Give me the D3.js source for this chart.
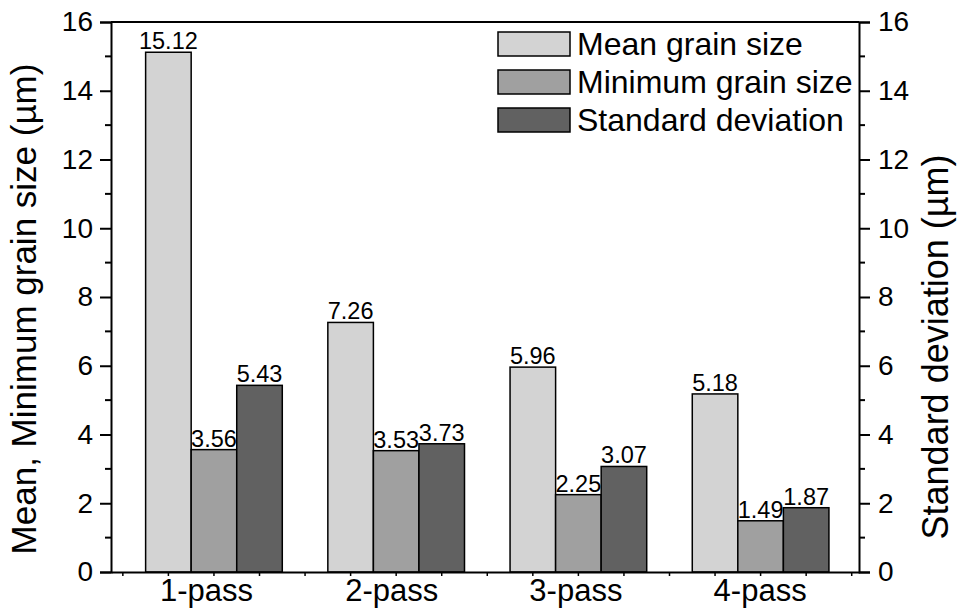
<!DOCTYPE html>
<html>
<head>
<meta charset="utf-8">
<title>Grain size</title>
<script src="https://cdn.jsdelivr.net/npm/d3@7"></script>
<style>
  body { margin: 0; background: #fff; }
  text { font-family: "Liberation Sans", Arial, sans-serif; fill: #000; }
</style>
</head>
<body>
<svg id="chart" width="957" height="612"></svg>
<script>
// data
const categories = ["1-pass", "2-pass", "3-pass", "4-pass"];
const seriesNames = ["Mean grain size", "Minimum grain size", "Standard deviation"];
const meanSize = [15.12, 7.26, 5.96, 5.18];
const minSize = [3.56, 3.53, 2.25, 1.49];
const stdDev = [5.43, 3.73, 3.07, 1.87];
const yTicks = [0, 2, 4, 6, 8, 10, 12, 14, 16];
const colors = ["#d3d3d3", "#a0a0a0", "#616161"];

const svg = d3.select("#chart");
const m = {left: 111, right: 98, top: 22, bottom: 40};
const W = 957, H = 612;
const FONT = '"Liberation Sans", Arial, sans-serif';

const x = d3.scaleLinear().domain([0.435, 4.54]).range([m.left, W - m.right]);
const y = d3.scaleLinear().domain([0, 16]).range([H - m.bottom, m.top]);
const barW = 0.25;

const series = [meanSize, minSize, stdDev];

// bars
series.forEach(function(vals, s) {
  const g = svg.append("g");
  g.selectAll("rect")
    .data(vals)
    .enter()
    .append("rect")
      .attr("x", (d, i) => x(i + 1 + (s - 1) * barW - barW / 2))
      .attr("width", x(barW) - x(0))
      .attr("y", d => y(d))
      .attr("height", d => y(0) - y(d))
      .attr("fill", colors[s])
      .attr("stroke", "#000")
      .attr("stroke-width", 1.5);
  g.selectAll("text")
    .data(vals)
    .enter()
    .append("text")
      .attr("x", (d, i) => x(i + 1 + (s - 1) * barW))
      .attr("y", d => y(d) - 3)
      .attr("text-anchor", "middle")
      .style("font-size", "23.5px")
      .text(d => d.toFixed(2));
});

// left axis
const yLeft = d3.axisLeft(y).tickValues(yTicks).tickSize(11).tickPadding(7).tickFormat(d3.format("d"));
const gl = svg.append("g").attr("transform", `translate(${m.left},0)`).call(yLeft);
gl.selectAll("line").attr("stroke-width", 2);
gl.select(".domain").attr("stroke-width", 2);
gl.selectAll("text").style("font-size", "28px").style("font-family", FONT);
gl.append("g").selectAll("line")
  .data(d3.range(1, 16, 2)).enter().append("line")
  .attr("x1", -6).attr("x2", 0).attr("y1", d => y(d)).attr("y2", d => y(d))
  .attr("stroke", "#000").attr("stroke-width", 2);

// right axis
const yRight = d3.axisRight(y).tickValues(yTicks).tickSize(11).tickPadding(8).tickFormat(d3.format("d"));
const gr = svg.append("g").attr("transform", `translate(${W - m.right},0)`).call(yRight);
gr.selectAll("line").attr("stroke-width", 2);
gr.select(".domain").attr("stroke-width", 2);
gr.selectAll("text").style("font-size", "28px").style("font-family", FONT);
gr.append("g").selectAll("line")
  .data(d3.range(1, 16, 2)).enter().append("line")
  .attr("x1", 0).attr("x2", 6).attr("y1", d => y(d)).attr("y2", d => y(d))
  .attr("stroke", "#000").attr("stroke-width", 2);

// bottom axis with category labels
const xAxis = d3.axisBottom(x).tickValues([1, 2, 3, 4]).tickSize(0).tickPadding(7)
  .tickFormat((d, i) => categories[i]);
const gb = svg.append("g").attr("transform", `translate(0,${H - m.bottom})`).call(xAxis);
gb.select(".domain").attr("stroke-width", 2);
gb.selectAll("text").style("font-size", "31px").style("font-family", FONT)
  .attr("dx", (d, i) => [-8, -5, -3, -1][i]);
gb.append("g").selectAll("line")
  .data(d3.range(0.5, 4.55, 0.25)).enter().append("line")
  .attr("x1", d => x(d)).attr("x2", d => x(d)).attr("y1", 0).attr("y2", 4)
  .attr("stroke", "#000").attr("stroke-width", 1.5);

// top border
svg.append("line")
  .attr("x1", m.left).attr("x2", W - m.right)
  .attr("y1", m.top).attr("y2", m.top)
  .attr("stroke", "#000").attr("stroke-width", 2);

// axis titles
svg.append("text")
  .attr("transform", "translate(36,309) rotate(-90)")
  .attr("text-anchor", "middle")
  .style("font-size", "35px")
  .text("Mean, Minimum grain size (\u00b5m)");
svg.append("text")
  .attr("transform", "translate(948,347) rotate(-90)")
  .attr("text-anchor", "middle")
  .style("font-size", "36px")
  .text("Standard deviation (\u00b5m)");

// legend
const leg = svg.append("g").attr("transform", "translate(498,32)");
seriesNames.forEach(function(name, i) {
  leg.append("rect")
    .attr("x", 0).attr("y", i * 38)
    .attr("width", 72).attr("height", 24)
    .attr("fill", colors[i]).attr("stroke", "#000").attr("stroke-width", 1.5);
  leg.append("text")
    .attr("x", 79).attr("y", i * 38 + 23)
    .style("font-size", "32px")
    .text(name);
});
</script>
</body>
</html>
